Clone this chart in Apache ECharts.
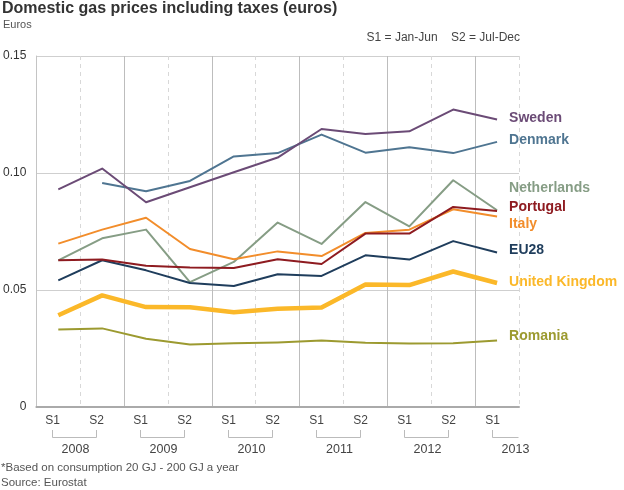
<!DOCTYPE html>
<html>
<head>
<meta charset="utf-8">
<script src="https://cdn.jsdelivr.net/npm/echarts@6/dist/echarts.min.js"></script>
<style>
html,body{margin:0;padding:0;background:#fff;}
#chart{width:624px;height:490px;}
</style>
</head>
<body>
<div id="chart"></div>
<script>
const categories = ['S1','S2','S1','S2','S1','S2','S1','S2','S1','S2','S1'];
const years = ['2008','2009','2010','2011','2012','2013'];
const yTicks = [0, 0.05, 0.10, 0.15];

const sweden      = [0.093, 0.1019, 0.0875, 0.0939, 0.1003, 0.1066, 0.1188, 0.1167, 0.1178, 0.1271, 0.1229];
const denmark     = [null, 0.0957, 0.0922, 0.0966, 0.1071, 0.1085, 0.1164, 0.1087, 0.111, 0.1085, 0.1133];
const netherlands = [0.0627, 0.0721, 0.0758, 0.0534, 0.062, 0.0788, 0.0697, 0.0876, 0.0772, 0.0969, 0.0841];
const portugal    = [0.0627, 0.063, 0.0604, 0.0596, 0.0594, 0.0631, 0.0611, 0.0741, 0.0741, 0.0855, 0.0838];
const italy       = [0.0698, 0.0758, 0.0809, 0.0675, 0.0631, 0.0665, 0.0645, 0.0744, 0.0758, 0.0845, 0.0814];
const eu28        = [0.0541, 0.0627, 0.0584, 0.053, 0.0517, 0.0567, 0.056, 0.0648, 0.063, 0.0709, 0.066];
const uk          = [0.0392, 0.0477, 0.0427, 0.0426, 0.0405, 0.042, 0.0425, 0.0523, 0.0521, 0.0579, 0.053];
const romania     = [0.0331, 0.0336, 0.0292, 0.0267, 0.0272, 0.0276, 0.0284, 0.0275, 0.0271, 0.0272, 0.0284];

const FONT = "'Liberation Sans', Arial, Helvetica, sans-serif";
const boundaries = categories.concat(['']).map((c, i) => String(i));

function line(name, data, color, width, dy, z) {
  return {
    name: name, type: 'line', data: data, xAxisIndex: 0, yAxisIndex: 0,
    showSymbol: false, symbol: 'none', connectNulls: false, z: z,
    lineStyle: {color: color, width: width, join: 'round'},
    itemStyle: {color: color},
    emphasis: {disabled: true},
    endLabel: {
      show: true, formatter: name, color: color, fontFamily: FONT,
      fontSize: 14, fontWeight: 'bold', distance: 12, offset: [0, dy]
    }
  };
}

const chart = echarts.init(document.getElementById('chart'), null, {renderer: 'canvas'});
chart.setOption({
  animation: false,
  backgroundColor: '#fff',
  textStyle: {fontFamily: FONT},
  title: [
    {text: 'Domestic gas prices including taxes (euros)', left: 2, top: 1, padding: 0,
     textStyle: {fontFamily: FONT, fontSize: 16, fontWeight: 'bold', color: '#333'}},
    {text: 'Euros', left: 3, top: 19, padding: 0,
     textStyle: {fontFamily: FONT, fontSize: 11, fontWeight: 'normal', color: '#555'}},
    {text: 'S1 = Jan-Jun    S2 = Jul-Dec', right: 104, top: 32, padding: 0,
     textStyle: {fontFamily: FONT, fontSize: 12, fontWeight: 'normal', color: '#444'}},
    {text: '*Based on consumption 20 GJ - 200 GJ a year', left: 1, top: 462, padding: 0,
     textStyle: {fontFamily: FONT, fontSize: 11.5, fontWeight: 'normal', color: '#555'}},
    {text: 'Source: Eurostat', left: 1, top: 477, padding: 0,
     textStyle: {fontFamily: FONT, fontSize: 11.5, fontWeight: 'normal', color: '#555'}}
  ],
  grid: [
    {left: 35, top: 56, width: 484, height: 351},
    {left: 30.5, top: 407, width: 484, height: 1}
  ],
  xAxis: [
    {type: 'category', gridIndex: 0, data: categories, boundaryGap: true,
     axisLine: {show: true, lineStyle: {color: '#aaa', width: 2}},
     axisTick: {show: false}, axisLabel: {show: false}, splitLine: {show: false}, z: 5},
    {type: 'category', gridIndex: 0, data: boundaries, boundaryGap: false, position: 'bottom',
     axisLine: {show: false}, axisTick: {show: false}, axisLabel: {show: false},
     splitLine: {show: true, interval: (i) => i % 2 === 1, lineStyle: {color: '#d8d8d8', type: [4, 4], width: 1}}},
    {type: 'category', gridIndex: 0, data: boundaries, boundaryGap: false, position: 'bottom',
     axisLine: {show: false}, axisTick: {show: false}, axisLabel: {show: false},
     splitLine: {show: true, interval: (i) => i % 2 === 0 && i > 0 && i < categories.length, lineStyle: {color: '#bdbdbd', width: 1}}},
    {type: 'category', gridIndex: 1, data: categories, boundaryGap: true,
     axisLine: {show: false}, axisTick: {show: false},
     axisLabel: {show: true, interval: 0, fontFamily: FONT, fontSize: 12, color: '#444', margin: 7},
     splitLine: {show: false}}
  ],
  yAxis: [
    {type: 'value', gridIndex: 0, min: yTicks[0], max: yTicks[yTicks.length - 1], interval: yTicks[1] - yTicks[0],
     axisLine: {show: true, lineStyle: {color: '#c4c4c4', width: 1}},
     axisTick: {show: false},
     axisLabel: {fontFamily: FONT, fontSize: 12, color: '#333', margin: 10,
                 formatter: (v) => v === 0 ? '0' : v.toFixed(2)},
     splitLine: {show: true, lineStyle: {color: '#cfcfcf', width: 1}}},
    {type: 'value', gridIndex: 1, min: 0, max: 1, show: false}
  ],
  series: [
    line('Romania', romania, '#9c9a30', 2, -4, 2),
    line('United Kingdom', uk, '#fbb829', 4.5, -1, 3),
    line('EU28', eu28, '#1f3d5c', 2, -2, 3),
    line('Italy', italy, '#f28d2b', 2, 8, 3),
    line('Portugal', portugal, '#8e1b20', 2, -4, 3),
    line('Netherlands', netherlands, '#869d85', 2, -22, 2),
    line('Denmark', denmark, '#4f7591', 2, -2, 3),
    line('Sweden', sweden, '#6b4b76', 2, -1, 3),
    {
      type: 'custom', xAxisIndex: 3, yAxisIndex: 1, silent: true,
      data: years.map((y, i) => [i * 2, 0]),
      renderItem: function (params, api) {
        const cs = params.coordSys;
        const idx = api.value(0);
        const bw = api.size([1, 0])[0];
        const x1 = api.coord([idx, 0])[0];
        const hasS2 = idx + 1 < categories.length;
        const x2 = hasS2 ? api.coord([idx + 1, 0])[0] : Math.min(x1 + bw, cs.x + cs.width + 4);
        const top = cs.y + 23, bottom = cs.y + 30.5;
        const pts = hasS2 ? [[x1, top], [x1, bottom], [x2, bottom], [x2, top]]
                          : [[x1, top], [x1, bottom], [x2, bottom]];
        return {
          type: 'group',
          children: [
            {type: 'polyline', shape: {points: pts}, style: {stroke: '#bbb', lineWidth: 1, fill: null}},
            {type: 'text', style: {text: years[params.dataIndex], x: x1 + bw / 2 + 1, y: cs.y + 43,
              textAlign: 'center', textVerticalAlign: 'middle', fontFamily: FONT, fontSize: 12.5, fill: '#444'}}
          ]
        };
      }
    }
  ]
});
</script>
</body>
</html>
